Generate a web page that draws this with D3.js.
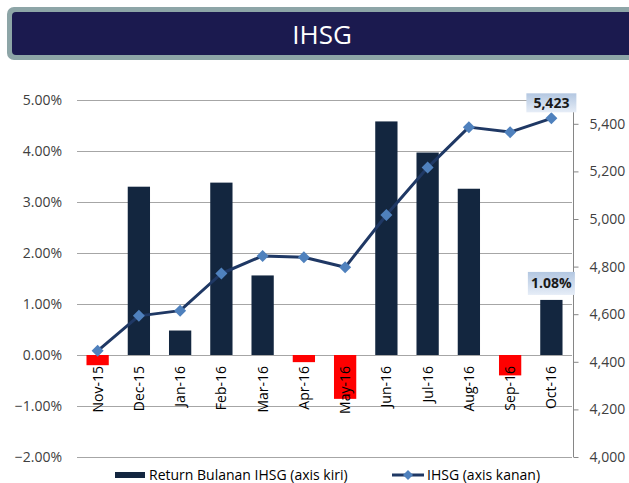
<!DOCTYPE html>
<html>
<head>
<meta charset="utf-8">
<script src="https://cdn.jsdelivr.net/npm/d3@7"></script>
<style>
  body { margin: 0; background: #fff; }
  svg { display: block; }
</style>
</head>
<body>
<div id="chart"></div>
<script>
// data
const months = ["Nov-15", "Dec-15", "Jan-16", "Feb-16", "Mar-16", "Apr-16",
                "May-16", "Jun-16", "Jul-16", "Aug-16", "Sep-16", "Oct-16"];
const returns = [-0.0020, 0.0330, 0.0048, 0.0338, 0.0156, -0.0014,
                 -0.0086, 0.0458, 0.0397, 0.0326, -0.0040, 0.0108];
const ihsg = [4446, 4593, 4615, 4771, 4845, 4839,
              4797, 5017, 5216, 5386, 5365, 5423];
const leftTicks = [-0.02, -0.01, 0, 0.01, 0.02, 0.03, 0.04, 0.05];
const rightTicks = [4000, 4200, 4400, 4600, 4800, 5000, 5200, 5400];

const W = 629, H = 483;
const font = "'Liberation Sans Narrow', 'Open Sans', sans-serif";

const svg = d3.select("#chart").append("svg")
  .attr("width", W)
  .attr("height", H)
  .style("background-color", "#fff");

// header banner
svg.append("rect")
  .attr("x", 7).attr("y", 7)
  .attr("width", 650).attr("height", 53)
  .attr("rx", 7)
  .attr("fill", "#8DA5A7");
svg.append("rect")
  .attr("x", 12).attr("y", 12)
  .attr("width", 640).attr("height", 43)
  .attr("rx", 4)
  .attr("fill", "#1B1A4F");
svg.append("text")
  .attr("x", 322).attr("y", 44)
  .attr("text-anchor", "middle")
  .attr("font-family", "'Open Sans', sans-serif")
  .attr("font-size", "26px")
  .attr("fill", "#fff")
  .text("IHSG");

// scales
const x = d3.scaleBand()
  .domain(months)
  .range([77, 572])
  .paddingInner(0.46)
  .paddingOuter(0.23);

const yL = d3.scaleLinear().domain([-0.02, 0.05]).range([457, 100]);
const yR = d3.scaleLinear().domain([4000, 5500]).range([457, 100]);

// gridlines
svg.append("g")
  .selectAll("line")
  .data(leftTicks)
  .join("line")
  .attr("x1", 77).attr("x2", 572)
  .attr("y1", d => Math.round(yL(d)) + 0.5)
  .attr("y2", d => Math.round(yL(d)) + 0.5)
  .attr("stroke", "#A6A6A6")
  .attr("stroke-width", 1);

// left axis labels
svg.append("g")
  .selectAll("text")
  .data(leftTicks)
  .join("text")
  .attr("x", 62)
  .attr("y", d => yL(d))
  .attr("dy", "0.36em")
  .attr("text-anchor", "end")
  .attr("font-family", font)
  .attr("font-size", "14px")
  .attr("fill", "#404040")
  .text(d => d3.format(".2%")(d));

// right axis
const axR = svg.append("g")
  .attr("transform", "translate(573.5,0)")
  .call(d3.axisRight(yR).tickValues(rightTicks).tickSize(5).tickPadding(11)
    .tickFormat(d3.format(",")));
axR.select(".domain").attr("stroke", "#868686").attr("d", "M0,100V457");
axR.selectAll(".tick line").attr("stroke", "#868686");
axR.selectAll(".tick text")
  .attr("font-family", font)
  .attr("font-size", "14px")
  .attr("fill", "#404040");

// bars
svg.append("g")
  .selectAll("rect")
  .data(months)
  .join("rect")
  .attr("x", d => x(d))
  .attr("width", x.bandwidth())
  .attr("y", (d, i) => yL(Math.max(0, returns[i])))
  .attr("height", (d, i) => Math.abs(yL(returns[i]) - yL(0)))
  .attr("fill", (d, i) => returns[i] < 0 ? "#FF0000" : "#13263F");

// category labels
svg.append("g")
  .selectAll("text")
  .data(months)
  .join("text")
  .attr("transform", d => `translate(${x(d) + x.bandwidth() / 2},366) rotate(-90)`)
  .attr("text-anchor", "end")
  .attr("dy", "0.36em")
  .attr("font-family", font)
  .attr("font-size", "14px")
  .attr("fill", "#000")
  .text(d => d);

// IHSG line
const cx = d => x(d) + x.bandwidth() / 2;
const line = d3.line()
  .x(d => cx(d))
  .y((d, i) => yR(ihsg[i]));

svg.append("path")
  .datum(months)
  .attr("d", line)
  .attr("fill", "none")
  .attr("stroke", "#1F3864")
  .attr("stroke-width", 3)
  .attr("stroke-linejoin", "round");

const diamond = r => `M0,${-r}L${r},0L0,${r}L${-r},0Z`;
svg.append("g")
  .selectAll("path")
  .data(months)
  .join("path")
  .attr("transform", (d, i) => `translate(${cx(d)},${yR(ihsg[i])})`)
  .attr("d", diamond(6))
  .attr("fill", "#4F81BD");

// data labels for last point
const defs = svg.append("defs");
const grad = defs.append("linearGradient")
  .attr("id", "lblGrad")
  .attr("x1", 0).attr("y1", 0).attr("x2", 0).attr("y2", 1);
grad.append("stop").attr("offset", "0%").attr("stop-color", "#B3C7E1");
grad.append("stop").attr("offset", "100%").attr("stop-color", "#E6EDF7");

const last = months.length - 1;
const labels = [
  { text: d3.format(",")(ihsg[last]), y: yR(ihsg[last]) - 25, w: 50, h: 19 },
  { text: d3.format(".2%")(returns[last]), y: yL(returns[last]) - 28, w: 47, h: 23 }
];
labels.forEach(l => {
  const g = svg.append("g")
    .attr("transform", `translate(${cx(months[last])},${l.y})`);
  g.append("rect")
    .attr("x", -l.w / 2).attr("y", 0)
    .attr("width", l.w).attr("height", l.h)
    .attr("fill", "url(#lblGrad)");
  g.append("text")
    .attr("y", l.h / 2)
    .attr("dy", "0.36em")
    .attr("text-anchor", "middle")
    .attr("font-family", font)
    .attr("font-size", "14px")
    .attr("font-weight", "bold")
    .attr("fill", "#1a1a1a")
    .text(l.text);
});

// legend
const leg = svg.append("g");
leg.append("rect")
  .attr("x", 115).attr("y", 472)
  .attr("width", 30).attr("height", 6)
  .attr("fill", "#13263F");
leg.append("text")
  .attr("x", 149).attr("y", 475)
  .attr("dy", "0.36em")
  .attr("font-family", font)
  .attr("font-size", "14px")
  .attr("fill", "#000")
  .text("Return Bulanan IHSG (axis kiri)");
leg.append("line")
  .attr("x1", 392).attr("x2", 424)
  .attr("y1", 475).attr("y2", 475)
  .attr("stroke", "#1F3864")
  .attr("stroke-width", 3);
leg.append("path")
  .attr("transform", "translate(408,475)")
  .attr("d", diamond(5))
  .attr("fill", "#4F81BD");
leg.append("text")
  .attr("x", 427).attr("y", 475)
  .attr("dy", "0.36em")
  .attr("font-family", font)
  .attr("font-size", "14px")
  .attr("fill", "#000")
  .text("IHSG (axis kanan)");
</script>
</body>
</html>
